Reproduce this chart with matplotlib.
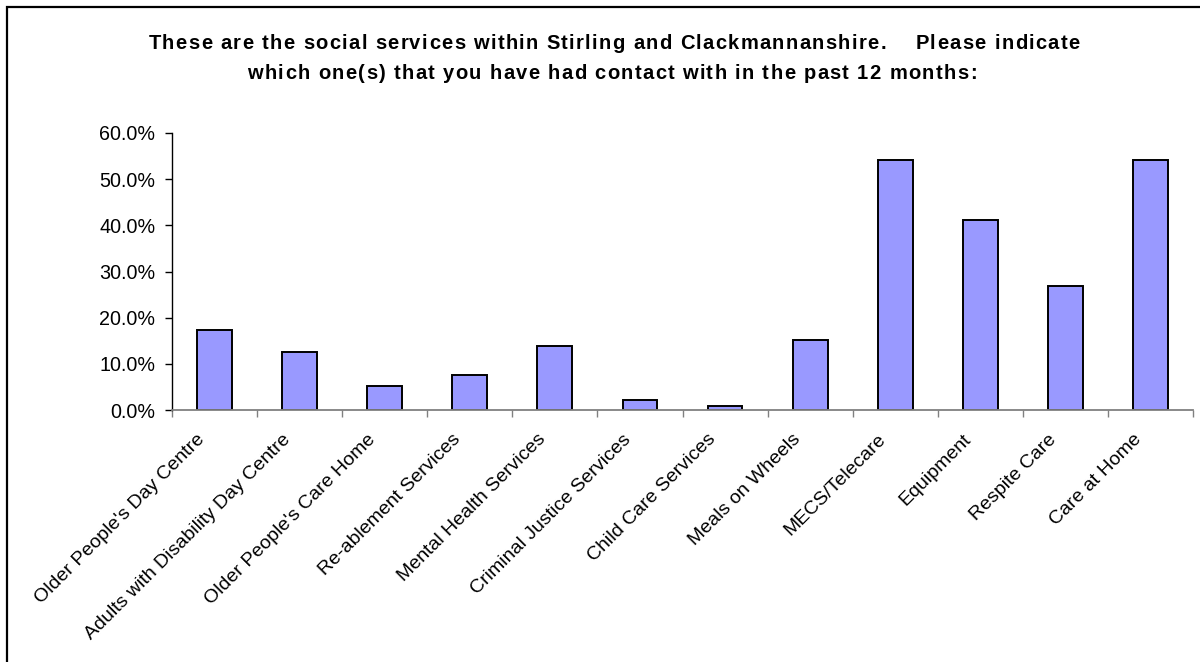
import matplotlib
matplotlib.use("Agg")
import matplotlib.pyplot as plt
from matplotlib.ticker import PercentFormatter, FixedLocator, NullFormatter
from matplotlib.patches import Rectangle
from matplotlib.font_manager import FontProperties
import numpy as np

plt.rcParams['font.family'] = ['Liberation Sans', 'DejaVu Sans']

services = [
    "Older People's Day Centre",
    "Adults with Disability Day Centre",
    "Older People's Care Home",
    "Re-ablement Services",
    "Mental Health Services",
    "Criminal Justice Services",
    "Child Care Services",
    "Meals on Wheels",
    "MECS/Telecare",
    "Equipment",
    "Respite Care",
    "Care at Home",
]
contact_pct = [17.3, 12.5, 5.1, 7.5, 13.8, 2.2, 0.8, 15.2, 54.1, 41.2, 26.9, 54.1]
y_ticks = [0, 10, 20, 30, 40, 50, 60]

title_lines = [
    "These are the social services within Stirling and Clackmannanshire.    Please indicate",
    "which one(s) that you have had contact with in the past 12 months:",
]

W, H = 1200, 662
fig = plt.figure(figsize=(W / 100, H / 100), dpi=100)
fig.patch.set_facecolor("white")

# chart-area frame (left and top edges fall inside the canvas)
fig.add_artist(Rectangle((7 / W, -0.1), 1.2, (H - 7) / H + 0.1,
                         transform=fig.transFigure, fill=False,
                         edgecolor="black", linewidth=1.6))

ax = fig.add_axes([172 / W, (H - 410) / H, (1193 - 172) / W, (410 - 133) / H])

x = np.arange(len(services))
ax.bar(x, contact_pct, width=0.41, color="#9999FF", edgecolor="black",
       linewidth=1.4, zorder=3)

ax.set_xlim(-0.5, len(services) - 0.5)
ax.set_ylim(0, 60)
ax.set_yticks(y_ticks)
ax.yaxis.set_major_formatter(PercentFormatter(decimals=1))

# category labels sit slightly left of each bar centre, slanted at 45 degrees
label_nudge = 0.07
ax.set_xticks(x - label_nudge)
ax.set_xticklabels(services, rotation=45, ha="right", va="top",
                   rotation_mode="default")
ax.xaxis.set_minor_locator(FixedLocator(np.arange(-0.5, len(services), 1.0)))
ax.xaxis.set_minor_formatter(NullFormatter())
ax.tick_params(axis="x", which="major", length=0, pad=15, labelsize=14)
ax.tick_params(axis="x", which="minor", length=5, width=1, color="#808080",
               direction="out")
ax.tick_params(axis="y", length=5, width=1, color="black", direction="out",
               pad=7, labelsize=14.2)

for side in ("top", "right"):
    ax.spines[side].set_visible(False)
ax.spines["left"].set_color("black")
ax.spines["left"].set_linewidth(1.0)
ax.spines["bottom"].set_color("#808080")
ax.spines["bottom"].set_linewidth(1.3)
ax.spines["bottom"].set_zorder(4)

# title drawn with widened letter spacing
renderer = fig.canvas.get_renderer()
tprop = FontProperties(family="Liberation Sans", weight="bold", size=14.5)


def text_width(s):
    w, _, _ = renderer.get_text_width_height_descent(s + "x", tprop, ismath=False)
    wx, _, _ = renderer.get_text_width_height_descent("x", tprop, ismath=False)
    return w - wx


def tracked_line(s, cx, baseline, track):
    total = text_width(s) + track * (len(s) - 1)
    x0 = cx - total / 2
    for i, ch in enumerate(s):
        if ch == " ":
            continue
        px = x0 + text_width(s[:i]) + track * i
        fig.text(px / W, 1 - baseline / H, ch, ha="left", va="baseline",
                 fontproperties=tprop)


tracked_line(title_lines[0], 614, 49, 1.35)
tracked_line(title_lines[1], 612, 79, 1.35)

fig.savefig("out.png", dpi=100, facecolor="white")
